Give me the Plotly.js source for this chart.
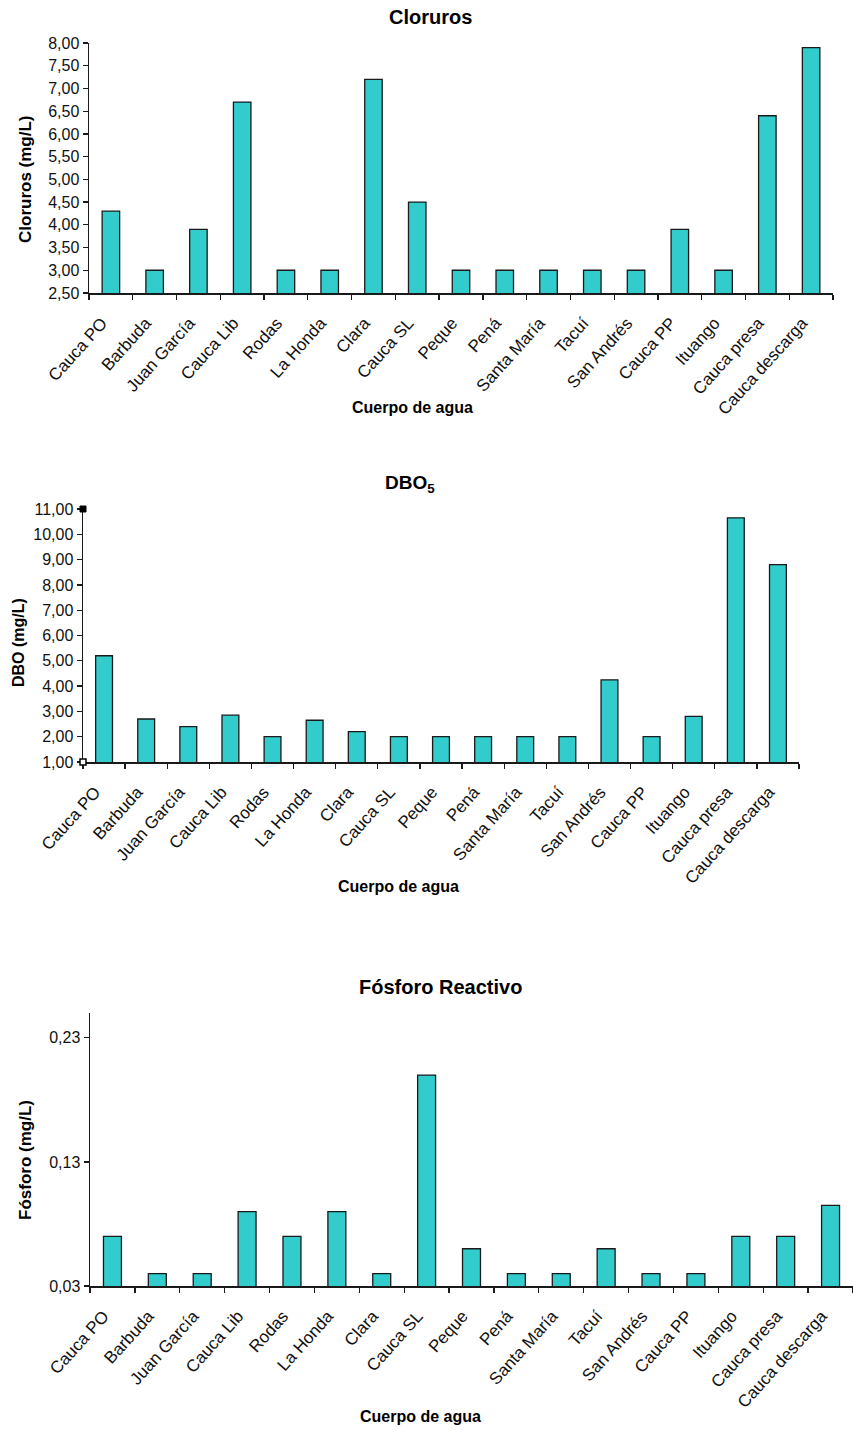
<!DOCTYPE html>
<html>
<head>
<meta charset="utf-8">
<script src="https://cdn.plot.ly/plotly-3.0.1.min.js"></script>
<style>
  html, body { margin: 0; padding: 0; background: #ffffff; }
  #chart { width: 853px; height: 1430px; }
</style>
</head>
<body>
<div id="chart"></div>
<script>
// ---- Data ----
const categories = ['Cauca PO', 'Barbuda', 'Juan García', 'Cauca Lib', 'Rodas', 'La Honda', 'Clara', 'Cauca SL',
  'Peque', 'Pená', 'Santa María', 'Tacuí', 'San Andrés', 'Cauca PP', 'Ituango', 'Cauca presa', 'Cauca descarga'];
const cloruros = [4.3, 3.0, 3.9, 6.7, 3.0, 3.0, 7.2, 4.5, 3.0, 3.0, 3.0, 3.0, 3.0, 3.9, 3.0, 6.4, 7.9];
const dbo5 = [5.2, 2.7, 2.4, 2.85, 2.0, 2.65, 2.2, 2.0, 2.0, 2.0, 2.0, 2.0, 4.25, 2.0, 2.8, 10.65, 8.8];
const fosforo = [0.07, 0.04, 0.04, 0.09, 0.07, 0.09, 0.04, 0.20, 0.06, 0.04, 0.04, 0.06, 0.04, 0.04, 0.07, 0.07, 0.095];

const chartTitles = ['Cloruros', 'DBO<sub>5</sub>', 'Fósforo Reactivo'];
const yTitles = ['Cloruros (mg/L)', 'DBO (mg/L)', 'Fósforo (mg/L)'];
const xTitle = 'Cuerpo de agua';

// ---- Style ----
const W = 853, H = 1430;
const FONT = 'Liberation Sans, Arial, Helvetica, sans-serif';
const barColor = '#33CCCC';
const lineColor = '#1a1a1a';

function px(x) { return x / W; }
function py(y) { return 1 - y / H; }

function barTrace(values, xa, ya) {
  return {
    type: 'bar', x: categories, y: values, xaxis: xa, yaxis: ya,
    width: 0.4,
    marker: { color: barColor, line: { color: lineColor, width: 1.3 } },
    hoverinfo: 'x+y', showlegend: false
  };
}

const data = [
  barTrace(cloruros, 'x', 'y'),
  barTrace(dbo5, 'x2', 'y2'),
  barTrace(fosforo, 'x3', 'y3')
];

function xAxis(domain, anchor) {
  return {
    domain: domain, anchor: anchor, type: 'category',
    range: [-0.5, categories.length - 0.5],
    tickson: 'boundaries', ticks: 'outside', ticklen: 5, tickwidth: 1.3, tickcolor: lineColor,
    showline: true, linecolor: lineColor, linewidth: 1.5,
    showgrid: false, zeroline: false, tickangle: -48,
    ticklabelstandoff: 12, ticklabelshift: -9,
    tickfont: { family: FONT, size: 17, color: '#111' },
    fixedrange: true
  };
}
function yAxis(domain, anchor, range, tick0, dtick) {
  return {
    domain: domain, anchor: anchor, range: range, tick0: tick0, dtick: dtick,
    tickmode: 'linear', tickformat: '.2f',
    ticks: 'outside', ticklen: 5, tickwidth: 1.3, tickcolor: lineColor,
    showline: true, linecolor: lineColor, linewidth: 1.5,
    showgrid: false, zeroline: false,
    tickfont: { family: FONT, size: 16, color: '#111' },
    fixedrange: true
  };
}

function ann(text, x, y, size, angle) {
  return {
    text: text, xref: 'paper', yref: 'paper', x: px(x), y: py(y),
    xanchor: 'center', yanchor: 'middle', showarrow: false,
    textangle: angle || 0,
    font: { family: FONT, size: size, color: '#000' }
  };
}

const layout = {
  width: W, height: H,
  margin: { l: 0, r: 0, t: 0, b: 0 },
  paper_bgcolor: '#ffffff', plot_bgcolor: '#ffffff',
  separators: ',.',
  showlegend: false,
  xaxis: xAxis([px(89), px(833)], 'y'),
  yaxis: yAxis([py(293), py(43)], 'x', [2.5, 8.0], 2.5, 0.5),
  xaxis2: xAxis([px(83), px(799)], 'y2'),
  yaxis2: yAxis([py(762), py(509)], 'x2', [1, 11], 1, 1),
  xaxis3: xAxis([px(90), 1.0], 'y3'),
  yaxis3: yAxis([py(1286), py(1013)], 'x3', [0.03, 0.25], 0.03, 0.1),
  annotations: [
    ann('<b>' + chartTitles[0] + '</b>', 431, 17, 20),
    ann('<b>' + yTitles[0] + '</b>', 26, 179, 17, -90),
    ann('<b>' + xTitle + '</b>', 412, 408, 16),
    ann('<b>' + chartTitles[1] + '</b>', 410, 484, 19),
    ann('<b>' + yTitles[1] + '</b>', 18, 643, 16, -90),
    ann('<b>' + xTitle + '</b>', 398, 887, 16),
    ann('<b>' + chartTitles[2] + '</b>', 441, 987, 20),
    ann('<b>' + yTitles[2] + '</b>', 25, 1160, 17, -90),
    ann('<b>' + xTitle + '</b>', 420, 1416, 16)
  ],
  shapes: [
    { type: 'rect', xref: 'x2 domain', yref: 'y2 domain', xsizemode: 'pixel', ysizemode: 'pixel',
      xanchor: 0, yanchor: 1, x0: -3, x1: 3, y0: -3, y1: 3,
      fillcolor: '#000', line: { color: '#000', width: 1 } },
    { type: 'rect', xref: 'x2 domain', yref: 'y2 domain', xsizemode: 'pixel', ysizemode: 'pixel',
      xanchor: 0, yanchor: 0, x0: -3, x1: 3, y0: -3, y1: 3,
      fillcolor: '#fff', line: { color: '#000', width: 1.5 } }
  ]
};

Plotly.newPlot('chart', data, layout, { displayModeBar: false, staticPlot: true });
</script>
</body>
</html>
